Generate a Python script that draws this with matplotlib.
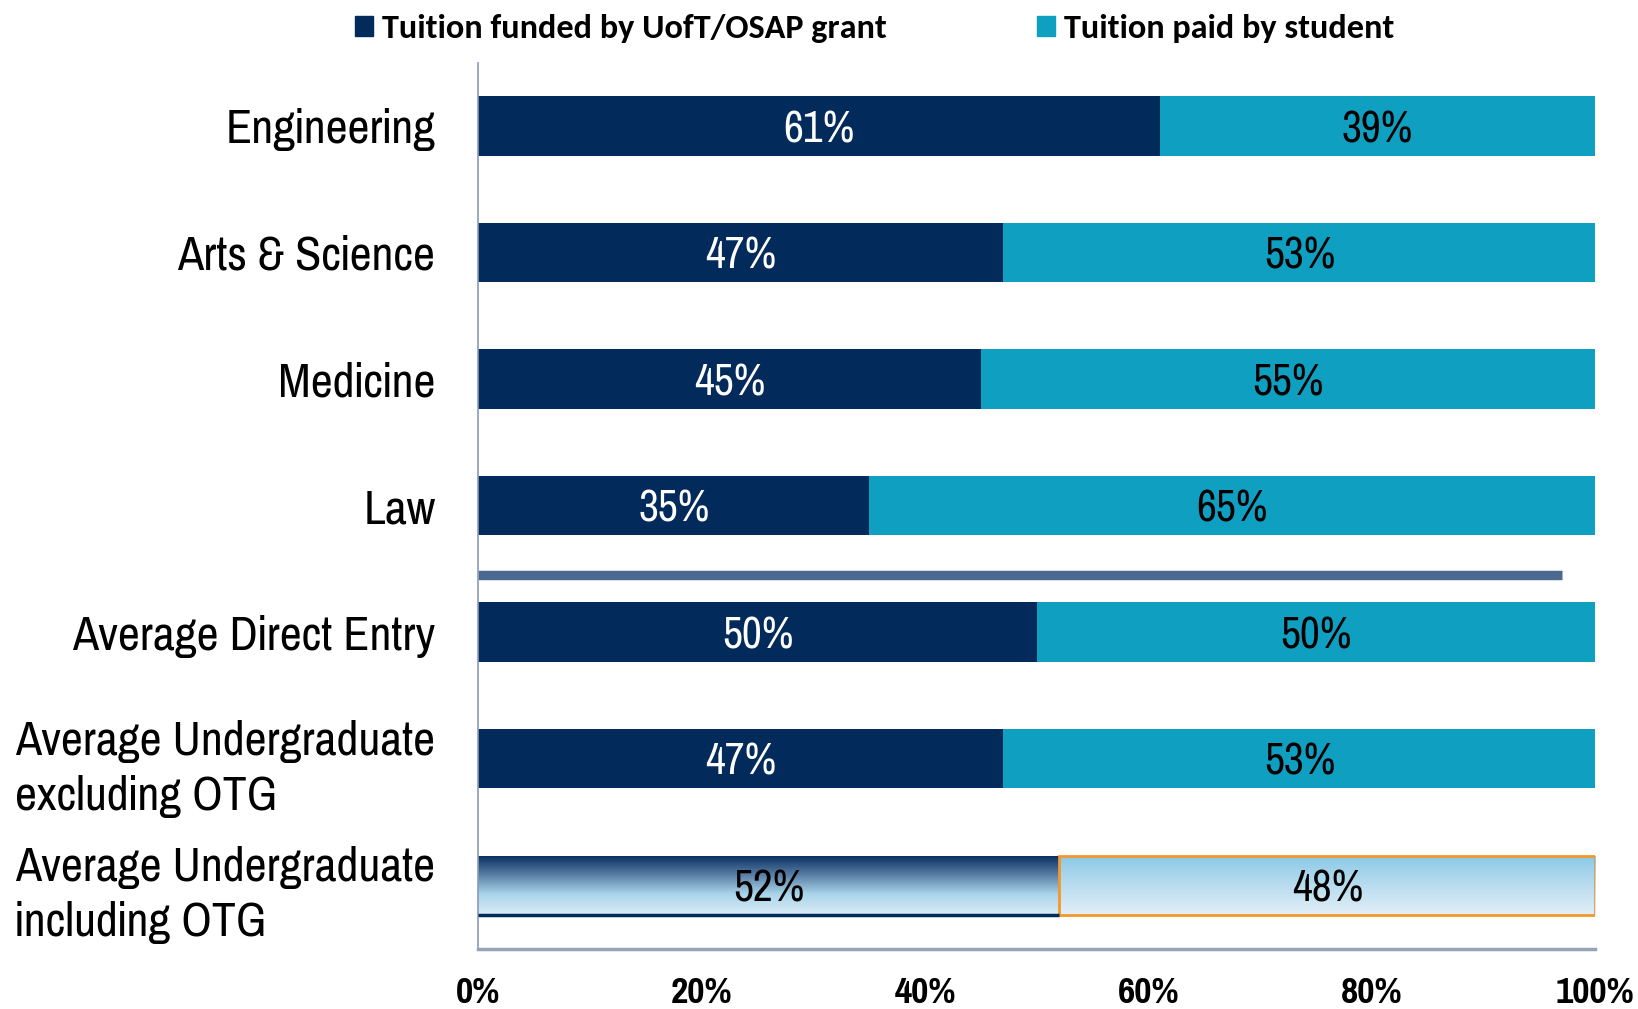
import numpy as np
import matplotlib
matplotlib.use("Agg")
import matplotlib.pyplot as plt
from matplotlib.colors import LinearSegmentedColormap
from matplotlib.patches import Patch

# datos (porcentaje de la matrícula)
categories = ["Engineering", "Arts & Science", "Medicine", "Law",
              "Average Direct Entry",
              "Average Undergraduate\nexcluding OTG",
              "Average Undergraduate\nincluding OTG"]
funded = [61, 47, 45, 35, 50, 47, 52]
paid = [39, 53, 55, 65, 50, 53, 48]
series_names = ["Tuition funded by UofT/OSAP grant", "Tuition paid by student"]
xticks = [0, 20, 40, 60, 80, 100]
sep_after = "Law"

NAVY = "#022b5c"
TEAL = "#0e9fc1"
NARROW = ["Pragati Narrow", "Archivo Narrow", "DejaVu Sans"]
LEGEND_FONT = ["Carlito", "Lato", "DejaVu Sans"]


def gradient_fill(ax, patch, colors, stops):
    # degradado vertical recortado al rectángulo de la barra
    x0, y0 = patch.get_x(), patch.get_y()
    w, h = patch.get_width(), patch.get_height()
    cmap = LinearSegmentedColormap.from_list("g", list(zip(stops, colors)))
    grad = np.linspace(0, 1, 256).reshape(-1, 1)
    im = ax.imshow(grad, extent=[x0, x0 + w, y0 + h, y0], aspect="auto",
                   cmap=cmap, zorder=patch.get_zorder() - 0.1,
                   interpolation="bilinear")
    im.set_clip_path(patch)


fig = plt.figure(figsize=(16.38, 10.09), dpi=100)
ax = fig.add_axes([0.2921, 0.0599, 0.974 - 0.2921, 0.9379 - 0.0599])

y = np.arange(len(categories))
h = 0.47
b1 = ax.barh(y, funded, height=h, color=NAVY, zorder=2)
b2 = ax.barh(y, paid, left=funded, height=h, color=TEAL, zorder=2)

ax.set_xlim(0, 100)
ax.set_ylim(len(categories) - 0.5, -0.5)

# última fila: barras con degradado
last_f, last_p = b1.patches[-1], b2.patches[-1]
last_f.set_facecolor("none")
last_p.set_facecolor("none")
last_p.set_edgecolor("#f5972a")
last_p.set_linewidth(2)
gradient_fill(ax, last_f, ["#062c5e", "#5f84aa", "#a9d4ea", "#dbedf7"],
              [0.0, 0.35, 0.65, 1.0])
gradient_fill(ax, last_p, ["#89c9e5", "#b9dcef", "#e2eff7"], [0.0, 0.5, 1.0])
ax.hlines(last_f.get_y() + last_f.get_height(), 0, funded[-1],
          color=NAVY, linewidth=2.5, zorder=3)
ax.set_xlim(0, 100)
ax.set_ylim(len(categories) - 0.5, -0.5)

# etiquetas dentro de las barras
t1 = ax.bar_label(b1, labels=[f"{v}%" for v in funded], label_type="center",
                  fontsize=34, family=NARROW, color="white")
t2 = ax.bar_label(b2, labels=[f"{v}%" for v in paid], label_type="center",
                  fontsize=34, family=NARROW, color="black")
t1[-1].set_color("black")
for t in t1 + t2:
    t.set_position((0, -3))

# línea separadora entre facultades y promedios
ax.hlines(categories.index(sep_after) + 0.55, 0, 97, color="#4a6890",
          linewidth=6.8, zorder=2)

ax.set_yticks(y)
ax.set_yticklabels(categories, fontsize=37.5, family=NARROW)
for lab in ax.get_yticklabels():
    lab.set_multialignment("left")
    lab.set_linespacing(1.34)
ax.set_xticks(xticks)
ax.set_xticklabels([f"{v}%" for v in xticks], fontsize=29.5, family=NARROW,
                   fontweight="bold")
ax.tick_params(axis="y", length=0, pad=31)
ax.tick_params(axis="x", length=0, pad=20)

for s in ["top", "right"]:
    ax.spines[s].set_visible(False)
ax.spines["left"].set_color("#8a9ab8")
ax.spines["left"].set_linewidth(1.2)
ax.spines["bottom"].set_color("#98a2b6")
ax.spines["bottom"].set_linewidth(2.5)

handles = [Patch(color=NAVY), Patch(color=TEAL)]
fig.legend(handles, series_names, loc="center", bbox_to_anchor=(0.534, 0.972),
           ncol=2, frameon=False, handlelength=0.52, handleheight=0.52,
           handletextpad=0.25, columnspacing=4.4,
           prop={"family": LEGEND_FONT, "weight": "bold", "size": 24.7})

fig.savefig("out.png", dpi=100)
